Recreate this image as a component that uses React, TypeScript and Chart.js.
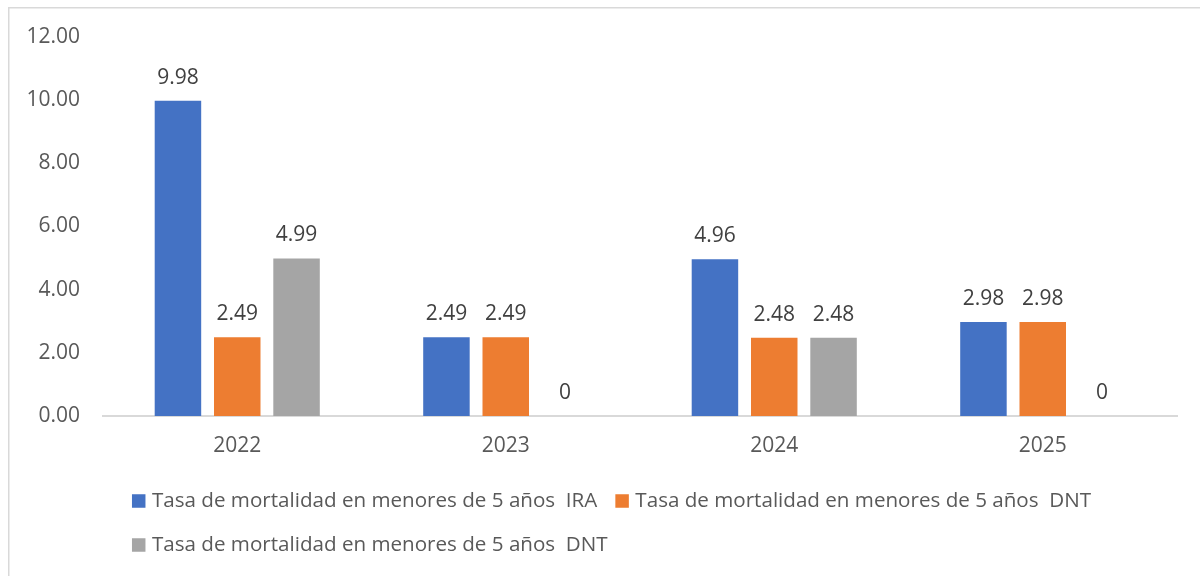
import React, { useEffect, useRef } from "react";
import { Chart, registerables } from "chart.js";

Chart.register(...registerables);

const categories = ["2022", "2023", "2024", "2025"];
const seriesLabels = [
  "Tasa de mortalidad en menores de 5 años  IRA",
  "Tasa de mortalidad en menores de 5 años  DNT",
  "Tasa de mortalidad en menores de 5 años  DNT",
];
const seriesIRA = [9.98, 2.49, 4.96, 2.98];
const seriesDNT1 = [2.49, 2.49, 2.48, 2.98];
const seriesDNT2 = [4.99, 0, 2.48, 0];
const seriesColors = ["#4472C4", "#ED7D31", "#A5A5A5"];
const yTicks = [0, 2, 4, 6, 8, 10, 12];

const FONT = "'Open Sans', 'Noto Sans', sans-serif";
const FSIZE = 21;
const LEGEND_FSIZE = 20.6;

const framePlugin = {
  id: "frame",
  beforeDraw(chart: any) {
    const ctx = chart.ctx;
    ctx.save();
    ctx.fillStyle = "#ffffff";
    ctx.fillRect(0, 0, chart.width, chart.height);
    ctx.strokeStyle = "#D9D9D9";
    ctx.lineWidth = 1.5;
    ctx.strokeRect(8.75, 7.75, chart.width + 20, chart.height + 20);
    ctx.restore();
  },
};

const valueLabelPlugin = {
  id: "valueLabels",
  afterDatasetsDraw(chart: any) {
    const ctx = chart.ctx;
    ctx.save();
    ctx.font = `${FSIZE}px ${FONT}`;
    ctx.fillStyle = "#404040";
    ctx.textAlign = "center";
    ctx.textBaseline = "alphabetic";
    chart.data.datasets.forEach((ds: any, di: number) => {
      const meta = chart.getDatasetMeta(di);
      meta.data.forEach((bar: any, i: number) => {
        const v = ds.data[i];
        ctx.fillText(String(v), bar.x, bar.y - 17);
      });
    });
    ctx.restore();
  },
};

const legendPlugin = {
  id: "customLegend",
  afterDraw(chart: any) {
    const ctx = chart.ctx;
    ctx.save();
    ctx.font = `${LEGEND_FSIZE}px ${FONT}`;
    ctx.fillStyle = "#595959";
    ctx.textBaseline = "middle";
    ctx.textAlign = "left";
    const box = 13.5;
    const textGap = 6.5;
    const itemGap = 18;
    const widths = seriesLabels.map((l) => box + textGap + ctx.measureText(l).width);
    const row1 = widths[0] + itemGap + widths[1];
    const centerX = 611.5;
    const startX = centerX - row1 / 2;
    const rows = [
      { y: 501, items: [0, 1] },
      { y: 545, items: [2] },
    ];
    rows.forEach((row) => {
      let x = startX;
      row.items.forEach((idx) => {
        ctx.fillStyle = seriesColors[idx];
        ctx.fillRect(x, row.y - box / 2, box, box);
        ctx.fillStyle = "#595959";
        ctx.fillText(seriesLabels[idx], x + box + textGap, row.y);
        x += widths[idx] + itemGap;
      });
    });
    ctx.restore();
  },
};

export default function App() {
  const canvasRef = useRef<HTMLCanvasElement | null>(null);

  useEffect(() => {
    if (!canvasRef.current) return;
    const chart = new Chart(canvasRef.current, {
      type: "bar",
      data: {
        labels: categories,
        datasets: [seriesIRA, seriesDNT1, seriesDNT2].map((d, i) => ({
          label: seriesLabels[i],
          data: d,
          backgroundColor: seriesColors[i],
          categoryPercentage: 0.6626,
          barPercentage: 0.784,
        })),
      },
      options: {
        responsive: false,
        animation: false,
        devicePixelRatio: 1,
        layout: { padding: { left: 0, top: 37, right: 23, bottom: 0 } },
        plugins: {
          legend: { display: false },
          tooltip: { enabled: false },
          title: { display: false },
        },
        scales: {
          x: {
            grid: { display: true, color: "rgba(0,0,0,0)", drawTicks: false },
            border: { display: true, color: "#D9D9D9", width: 2 },
            ticks: {
              color: "#595959",
              font: { family: FONT, size: FSIZE },
              padding: 17,
            },
            afterFit: (s: any) => {
              s.height = 160;
            },
          },
          y: {
            min: 0,
            max: 12,
            afterBuildTicks: (s: any) => {
              s.ticks = yTicks.map((v) => ({ value: v }));
            },
            grid: { display: false, drawTicks: false },
            border: { display: false },
            ticks: {
              color: "#595959",
              font: { family: FONT, size: FSIZE },
              padding: 23,
              callback: (v: any) => Number(v).toFixed(2),
            },
            afterFit: (s: any) => {
              s.width = 103;
            },
          },
        },
      },
      plugins: [framePlugin, valueLabelPlugin, legendPlugin],
    });
    return () => chart.destroy();
  }, []);

  return (
    <div style={{ position: "absolute", left: 0, top: 0, width: 1200, height: 576 }}>
      <canvas ref={canvasRef} width={1200} height={576} />
    </div>
  );
}
